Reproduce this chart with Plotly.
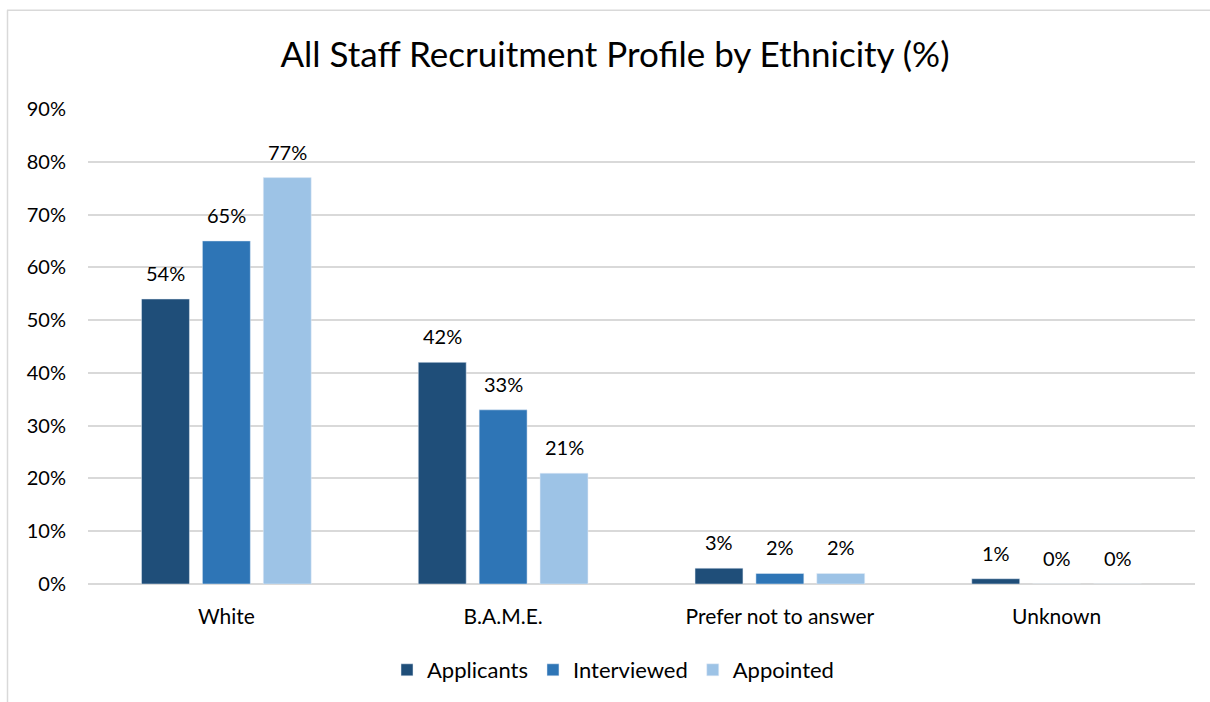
import plotly.graph_objects as go

categories = ["White", "B.A.M.E.", "Prefer not to answer", "Unknown"]
applicants = [54, 42, 3, 1]
interviewed = [65, 33, 2, 0]
appointed = [77, 21, 2, 0]
series_names = ["Applicants", "Interviewed", "Appointed"]
colors = ["#1F4E79", "#2E75B6", "#9DC3E6"]
y_ticks = [0, 10, 20, 30, 40, 50, 60, 70, 80, 90]

FONT = "Lato, 'Open Sans', sans-serif"

W, H = 1210, 702
L, R, T, B = 88, 15, 109, 117
pw = W - L - R
ph = H - T - B


def px_x(x):
    return (x - L) / pw


def px_y(y):
    return (H - B - y) / ph


BARGAP = 0.34
GROUPGAP = 0.213
cat_px = pw / len(categories)
slot_px = cat_px * (1 - BARGAP) / len(series_names)

fig = go.Figure()
annotations = []
for i, (name, vals, col) in enumerate(zip(series_names, [applicants, interviewed, appointed], colors)):
    fig.add_trace(go.Bar(
        x=categories, y=vals, name=name, marker_color=col,
        cliponaxis=False,
    ))
    shift = (i - (len(series_names) - 1) / 2) * slot_px
    for c, v in zip(categories, vals):
        annotations.append(dict(
            x=c, y=v, xref="x", yref="y", text=f"{v}%", showarrow=False,
            xanchor="center", yanchor="bottom", xshift=shift, yshift=12,
            font=dict(size=20, color="#000000", family=FONT),
        ))

fig.update_layout(
    width=W, height=H,
    margin=dict(l=L, r=R, t=T, b=B),
    plot_bgcolor="white", paper_bgcolor="white",
    barmode="group", bargap=BARGAP, bargroupgap=GROUPGAP,
    title=dict(text="All Staff Recruitment Profile by Ethnicity (%)",
               x=615 / W, xanchor="center", xref="container", y=1 - 55 / H, yanchor="middle",
               font=dict(size=35, color="#000000", family=FONT)),
    legend=dict(orientation="h", x=px_x(613), xanchor="center", y=px_y(670), yanchor="middle",
                font=dict(size=22, color="#000000", family=FONT),
                itemwidth=30, traceorder="normal"),
    font=dict(family=FONT, color="#000000"),
    xaxis=dict(showgrid=False, showline=False, ticks="",
               tickfont=dict(size=21, color="#000000", family=FONT),
               ticklabelstandoff=18),
    yaxis=dict(range=[0, 90], tickmode="array", tickvals=y_ticks,
               ticktext=[f"{v}%" for v in y_ticks],
               showgrid=True, gridcolor="#D9D9D9", gridwidth=1.5,
               zeroline=True, zerolinecolor="#D9D9D9", zerolinewidth=1.5,
               tickfont=dict(size=20, color="#000000", family=FONT),
               ticklabelstandoff=21),
    annotations=annotations,
    shapes=[
        dict(type="line", xref="paper", yref="paper",
             x0=px_x(7), x1=px_x(W + 10), y0=px_y(10), y1=px_y(10),
             line=dict(color="#D9D9D9", width=1.5)),
        dict(type="line", xref="paper", yref="paper",
             x0=px_x(7.5), x1=px_x(7.5), y0=px_y(10), y1=px_y(H + 10),
             line=dict(color="#D9D9D9", width=1.5)),
    ],
)

fig.write_html(
    "out.html",
    config={"displayModeBar": False},
    post_script="document.body.style.margin='0';document.body.style.overflow='hidden';",
)
